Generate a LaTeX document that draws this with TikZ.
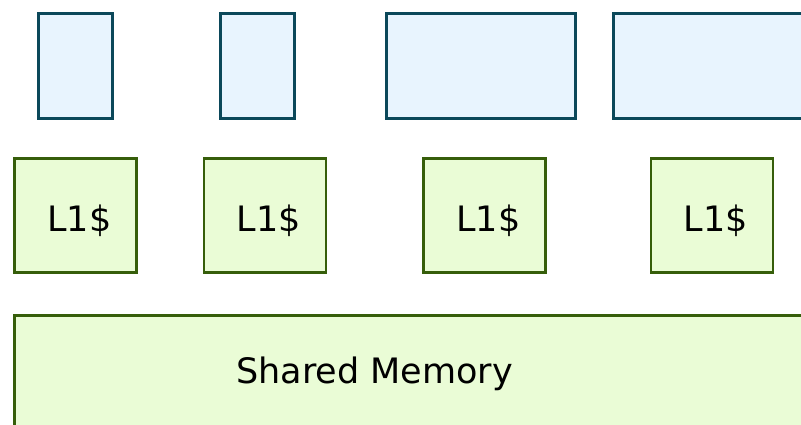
\documentclass[tikz,border=0pt]{standalone}
\usepackage{fontspec}
\setmainfont{DejaVu Sans}
\definecolor{corestroke}{RGB}{11,72,90}
\definecolor{corefill}{RGB}{232,244,254}
\definecolor{cachestroke}{RGB}{54,94,10}
\definecolor{cachefill}{RGB}{234,252,214}
\begin{document}
\begin{tikzpicture}[x=1pt,y=-1pt,font=\fontsize{35}{42}\selectfont,
    core node/.style={draw=corestroke,fill=corefill,line width=3.4pt,inner sep=0pt,minimum height=105pt},
    cache node/.style={draw=cachestroke,fill=cachefill,line width=2.9pt,inner sep=0pt,minimum width=122pt,minimum height=114pt,text height=36pt,text depth=5pt}]
    \useasboundingbox (0,0) rectangle (801,424);
    \clip (0,0) rectangle (801,424);
        % top row
        \node[core node,minimum width=74pt] (c1) at (75.5,66) {};
        \node[core node,minimum width=74pt] (c2) at (257.5,66) {};
        \node[core node,minimum width=189pt] (c3) at (481,66) {};
        \node[core node,minimum width=189pt] (c4) at (708,66) {};
        % caches
        \node[cache node] (l1) at (75.5,215.5) {\hspace{8pt}L1\$};
        \node[cache node] (l2) at (265,215.5) {\hspace{8pt}L1\$};
        \node[cache node] (l3) at (484.5,215.5) {\hspace{8pt}L1\$};
        \node[cache node] (l4) at (712,215.5) {\hspace{8pt}L1\$};
        % shared memory
        \draw[draw=cachestroke,fill=cachefill,line width=2.9pt] (14.7,315.5) rectangle (900,520);
        \node[anchor=base] (shared) at (374.5,383) {Shared Memory};
\end{tikzpicture}
\end{document}
